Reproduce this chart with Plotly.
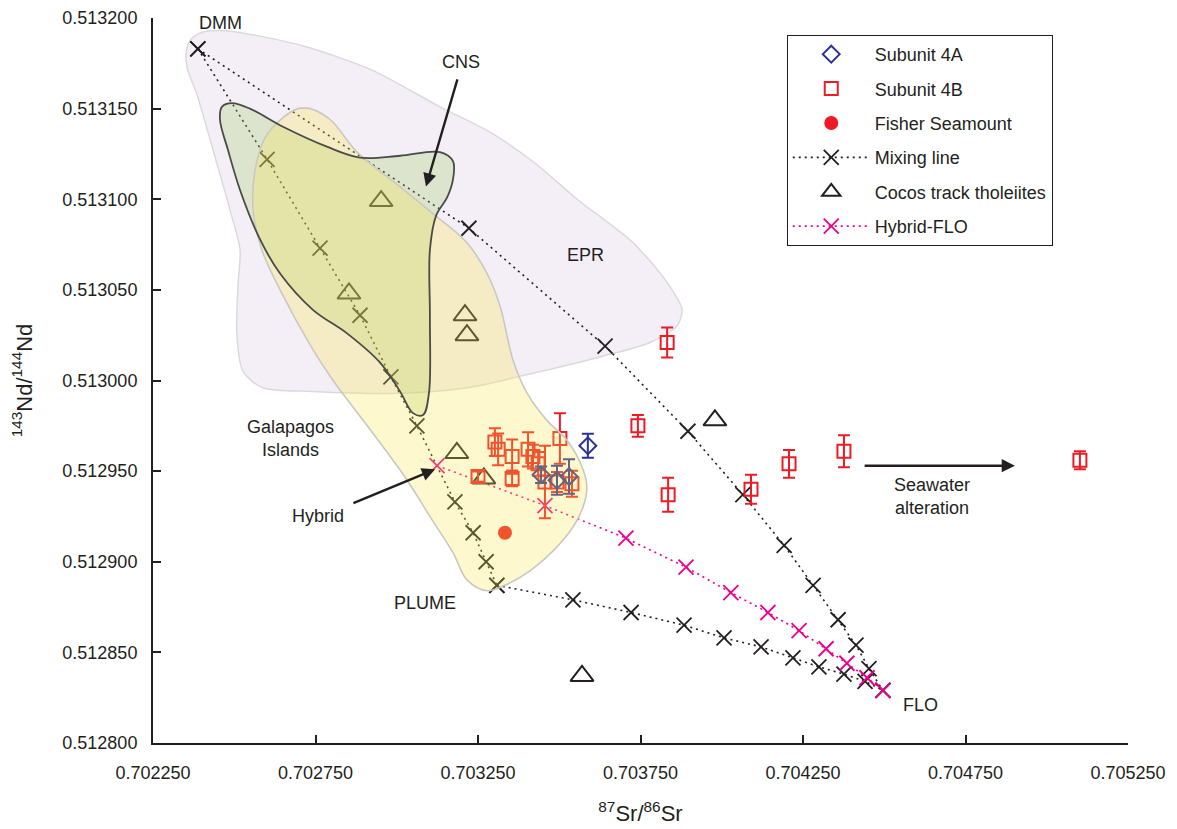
import plotly.graph_objects as go

# ---------------- data ----------------
x_tickvals = [0.70225, 0.70275, 0.70325, 0.70375, 0.70425, 0.70475, 0.70525]
x_ticktext = ["0.702250", "0.702750", "0.703250", "0.703750", "0.704250", "0.704750", "0.705250"]
y_tickvals = [0.5128, 0.51285, 0.5129, 0.51295, 0.513, 0.51305, 0.5131, 0.51315, 0.5132]
y_ticktext = ["0.512800", "0.512850", "0.512900", "0.512950", "0.513000",
              "0.513050", "0.513100", "0.513150", "0.513200"]

# Subunit 4A
sub4a_sr = [0.703588, 0.703444, 0.703493, 0.703530]
sub4a_nd = [0.512964, 0.512948, 0.512945, 0.512947]
sub4a_err = [0.0000066, 0.0000045, 0.0000080, 0.0000095]

# Subunit 4B
sub4b_sr = [0.703832, 0.703742, 0.703835, 0.704090, 0.704207, 0.704376, 0.705102, 0.703502,
            0.703302, 0.703312, 0.703355, 0.703355, 0.703404, 0.703419, 0.703435, 0.703456,
            0.703493, 0.703539, 0.703250]
sub4b_nd = [0.513021, 0.512975, 0.512937, 0.512940, 0.512954, 0.512961, 0.512956, 0.512968,
            0.512966, 0.512962, 0.512958, 0.512946, 0.512962, 0.512958, 0.512954, 0.512944,
            0.512944, 0.512943, 0.512947]
sub4b_err = [0.0000083, 0.0000060, 0.0000094, 0.0000080, 0.0000077, 0.0000088, 0.0000050, 0.0000140,
             0.0000077, 0.0000088, 0.0000094, 0.0000044, 0.0000094, 0.0000066, 0.0000066, 0.0000200,
             0.0000055, 0.0000072, 0.0000028]

# Fisher Seamount
fisher_sr = [0.703333]
fisher_nd = [0.512916]

# Cocos track tholeiites
cocos_sr = [0.702952, 0.702853, 0.703210, 0.703216, 0.703185, 0.703268, 0.703979, 0.703570]
cocos_nd = [0.513099, 0.513048, 0.513036, 0.513025, 0.512960, 0.512946, 0.512978, 0.512837]

# Mixing lines
mix_dmm_flo_sr = [0.702388, 0.703222, 0.703641, 0.703896, 0.704065, 0.704192, 0.704281,
                  0.704358, 0.704413, 0.704453, 0.704496]
mix_dmm_flo_nd = [0.513183, 0.513084, 0.513019, 0.512972, 0.512937, 0.512909, 0.512887,
                  0.512868, 0.512854, 0.512841, 0.512829]
mix_dmm_plume_sr = [0.702388, 0.702601, 0.702764, 0.702887, 0.702982, 0.703062, 0.703179,
                    0.703235, 0.703275, 0.703308]
mix_dmm_plume_nd = [0.513183, 0.513122, 0.513073, 0.513036, 0.513002, 0.512975, 0.512933,
                    0.512916, 0.512900, 0.512887]
mix_plume_flo_sr = [0.703308, 0.703542, 0.703721, 0.703884, 0.704007, 0.704121, 0.704219,
                    0.704299, 0.704376, 0.704441, 0.704496]
mix_plume_flo_nd = [0.512887, 0.512879, 0.512872, 0.512865, 0.512858, 0.512853, 0.512847,
                    0.512842, 0.512838, 0.512834, 0.512829]
hybrid_flo_sr = [0.703124, 0.703456, 0.703705, 0.703890, 0.704028, 0.704142, 0.704238,
                 0.704321, 0.704385, 0.704447, 0.704496]
hybrid_flo_nd = [0.512953, 0.512931, 0.512913, 0.512897, 0.512883, 0.512872, 0.512862,
                 0.512852, 0.512844, 0.512836, 0.512829]

# Field outlines
epr_sr = [0.703010, 0.702742, 0.702588, 0.702527, 0.702508, 0.702512, 0.702518, 0.702487,
          0.702435, 0.702385, 0.702356, 0.702352, 0.702366, 0.702400, 0.702472, 0.702579,
          0.702724, 0.702927, 0.703133, 0.703287, 0.703425, 0.703555, 0.703727, 0.703832,
          0.703878, 0.703862, 0.703779, 0.703625, 0.703419, 0.703216, 0.703010]
epr_nd = [0.512993, 0.512994, 0.512996, 0.513005, 0.513026, 0.513054, 0.513072, 0.513094,
          0.513127, 0.513158, 0.513172, 0.513181, 0.513188, 0.513192, 0.513193, 0.513190,
          0.513184, 0.513171, 0.513151, 0.513137, 0.513120, 0.513100, 0.513076, 0.513054,
          0.513039, 0.513030, 0.513021, 0.513013, 0.513004, 0.512996, 0.512993]

gal_sr = [0.702733, 0.702795, 0.702878, 0.702995, 0.703112, 0.703216, 0.703278, 0.703318,
          0.703358, 0.703401, 0.703462, 0.703524, 0.703573, 0.703585, 0.703573, 0.703542,
          0.703481, 0.703410, 0.703333, 0.703278, 0.703216, 0.703173, 0.703102, 0.703032,
          0.702918, 0.702804, 0.702742, 0.702641, 0.702585, 0.702558, 0.702564, 0.702595,
          0.702650, 0.702696, 0.702733]
gal_nd = [0.513150, 0.513144, 0.513126, 0.513109, 0.513092, 0.513076, 0.513059, 0.513041,
          0.513011, 0.512993, 0.512978, 0.512967, 0.512951, 0.512941, 0.512930, 0.512919,
          0.512906, 0.512895, 0.512887, 0.512884, 0.512890, 0.512905, 0.512925, 0.512945,
          0.512973, 0.513000, 0.513017, 0.513050, 0.513072, 0.513094, 0.513116, 0.513134,
          0.513145, 0.513150, 0.513150]

cns_sr = [0.702462, 0.702493, 0.702548, 0.702650, 0.702785, 0.702887, 0.703010, 0.703133,
          0.703173, 0.703173, 0.703155, 0.703121, 0.703102, 0.703102, 0.703099, 0.703081,
          0.703050, 0.703010, 0.702948, 0.702847, 0.702742, 0.702641, 0.702579, 0.702518,
          0.702481, 0.702456, 0.702462]
cns_nd = [0.513151, 0.513153, 0.513150, 0.513140, 0.513129, 0.513123, 0.513124, 0.513126,
          0.513121, 0.513111, 0.513101, 0.513091, 0.513072, 0.513035, 0.512993, 0.512981,
          0.512982, 0.512994, 0.513010, 0.513026, 0.513039, 0.513059, 0.513078, 0.513105,
          0.513127, 0.513144, 0.513151]

# ---------------- styles ----------------
INK = "#231f20"
RED = "#ed1c24"
BLUE = "#2e3192"
PINK = "#ec008c"
FONT = "Liberation Sans, Arial, Helvetica, sans-serif"

fig = go.Figure()

# EPR field (beneath the data)
fig.add_trace(go.Scatter(x=epr_sr, y=epr_nd, mode="lines", fill="toself",
                         fillcolor="#f4eff6", line=dict(color="#dadade", width=1.5, shape="spline",
                                                        smoothing=0.8),
                         showlegend=False, hoverinfo="skip"))

dotdash = "2px,4px"
xmark = dict(symbol="x-thin-open", size=15, line=dict(color=INK, width=1.8), color=INK)

fig.add_trace(go.Scatter(x=mix_dmm_flo_sr, y=mix_dmm_flo_nd, mode="lines+markers",
                         name="Mixing line", legendgroup="g4", legendrank=4,
                         line=dict(color=INK, width=1.6, dash=dotdash), marker=xmark))
fig.add_trace(go.Scatter(x=mix_dmm_plume_sr, y=mix_dmm_plume_nd, mode="lines+markers",
                         legendgroup="g4", showlegend=False,
                         line=dict(color=INK, width=1.6, dash=dotdash), marker=xmark))
fig.add_trace(go.Scatter(x=mix_plume_flo_sr, y=mix_plume_flo_nd, mode="lines+markers",
                         legendgroup="g4", showlegend=False,
                         line=dict(color=INK, width=1.6, dash=dotdash), marker=xmark))
fig.add_trace(go.Scatter(x=hybrid_flo_sr, y=hybrid_flo_nd, mode="lines+markers",
                         name="Hybrid-FLO", legendgroup="g6", legendrank=6,
                         line=dict(color=PINK, width=1.6, dash=dotdash),
                         marker=dict(symbol="x-thin-open", size=15, color=PINK,
                                     line=dict(color=PINK, width=1.8))))

fig.add_trace(go.Scatter(x=cocos_sr, y=cocos_nd, mode="markers", name="Cocos track tholeiites",
                         legendgroup="g5", legendrank=5,
                         marker=dict(symbol="triangle-up-open", size=20, color=INK,
                                     line=dict(color=INK, width=2))))

fig.add_trace(go.Scatter(x=sub4b_sr, y=sub4b_nd, mode="markers", name="Subunit 4B",
                         legendgroup="g2", legendrank=2,
                         error_y=dict(type="data", array=sub4b_err, visible=True,
                                      color=RED, thickness=2, width=6),
                         marker=dict(symbol="square-open", size=13, color=RED,
                                     line=dict(color=RED, width=2))))
fig.add_trace(go.Scatter(x=sub4a_sr, y=sub4a_nd, mode="markers", name="Subunit 4A",
                         legendgroup="g1", legendrank=1,
                         error_y=dict(type="data", array=sub4a_err, visible=True,
                                      color=BLUE, thickness=2, width=6),
                         marker=dict(symbol="diamond-open", size=13, color=BLUE,
                                     line=dict(color=BLUE, width=2))))
fig.add_trace(go.Scatter(x=fisher_sr, y=fisher_nd, mode="markers", name="Fisher Seamount",
                         legendgroup="g3", legendrank=3,
                         marker=dict(symbol="circle", size=14, color=RED)))

# CNS field and Galapagos field (translucent, above the data)
fig.add_trace(go.Scatter(x=cns_sr, y=cns_nd, mode="lines", fill="toself",
                         fillcolor="rgba(160,200,100,0.28)",
                         line=dict(color="rgba(0,0,0,0)", width=0, shape="spline"),
                         showlegend=False, hoverinfo="skip"))
fig.add_trace(go.Scatter(x=gal_sr, y=gal_nd, mode="lines", fill="toself",
                         fillcolor="rgba(248,230,75,0.28)",
                         line=dict(color="#c9c9c2", width=1.6, shape="spline"),
                         showlegend=False, hoverinfo="skip"))
fig.add_trace(go.Scatter(x=cns_sr, y=cns_nd, mode="lines",
                         line=dict(color="#4a4a48", width=1.8, shape="spline"),
                         showlegend=False, hoverinfo="skip"))

# ---------------- labels ----------------
labels = [
    ("DMM", 0.702459, 0.513197),
    ("CNS", 0.703198, 0.513176),
    ("EPR", 0.703582, 0.513069),
    ("Galapagos<br>Islands", 0.702672, 0.512968),
    ("Hybrid", 0.702758, 0.512925),
    ("PLUME", 0.703087, 0.512877),
    ("FLO", 0.704613, 0.512821),
    ("Seawater<br>alteration", 0.704647, 0.512936),
]
for txt, lx, ly in labels:
    fig.add_annotation(x=lx, y=ly, text=txt, showarrow=False, xref="x", yref="y",
                       font=dict(family=FONT, size=18, color=INK))

arrows = [
    (0.703090, 0.513107, 0.703188, 0.513167),
    (0.703118, 0.512951, 0.702862, 0.512932),
    (0.704902, 0.512953, 0.704435, 0.512953),
]
for hx, hy, tx, ty in arrows:
    fig.add_annotation(x=hx, y=hy, ax=tx, ay=ty, xref="x", yref="y", axref="x", ayref="y",
                       text="", showarrow=True, arrowhead=2, arrowsize=1.1,
                       arrowwidth=2.4, arrowcolor=INK)

fig.update_layout(
    width=1177, height=829,
    margin=dict(l=145, r=57, t=10, b=94, autoexpand=False),
    paper_bgcolor="white", plot_bgcolor="white",
    font=dict(family=FONT, size=18, color=INK),
    legend=dict(x=0.650, y=0.9766, xanchor="left", yanchor="top",
                bordercolor=INK, borderwidth=1, bgcolor="white",
                font=dict(family=FONT, size=18, color=INK),
                tracegroupgap=8, itemwidth=77),
)
fig.update_xaxes(range=[0.70225, 0.70525], tickvals=x_tickvals, ticktext=x_ticktext,
                 automargin=False,
                 showline=True, linecolor=INK, linewidth=2, ticks="inside", ticklen=8,
                 tickwidth=2, tickcolor=INK, showgrid=False, zeroline=False,
                 ticklabelstandoff=12,
                 tickfont=dict(family=FONT, size=18, color=INK),
                 title=dict(text="<sup>87</sup>Sr/<sup>86</sup>Sr", standoff=24,
                            font=dict(family=FONT, size=22, color=INK)))
fig.update_yaxes(range=[0.5128, 0.5132], tickvals=y_tickvals, ticktext=y_ticktext,
                 automargin=False,
                 showline=True, linecolor=INK, linewidth=2, ticks="inside", ticklen=8,
                 tickwidth=2, tickcolor=INK, showgrid=False, zeroline=False,
                 ticklabelstandoff=10,
                 tickfont=dict(family=FONT, size=18, color=INK),
                 title=dict(text="<sup>143</sup>Nd/<sup>144</sup>Nd", standoff=24,
                            font=dict(family=FONT, size=22, color=INK)))

fig.write_html("out.html")
